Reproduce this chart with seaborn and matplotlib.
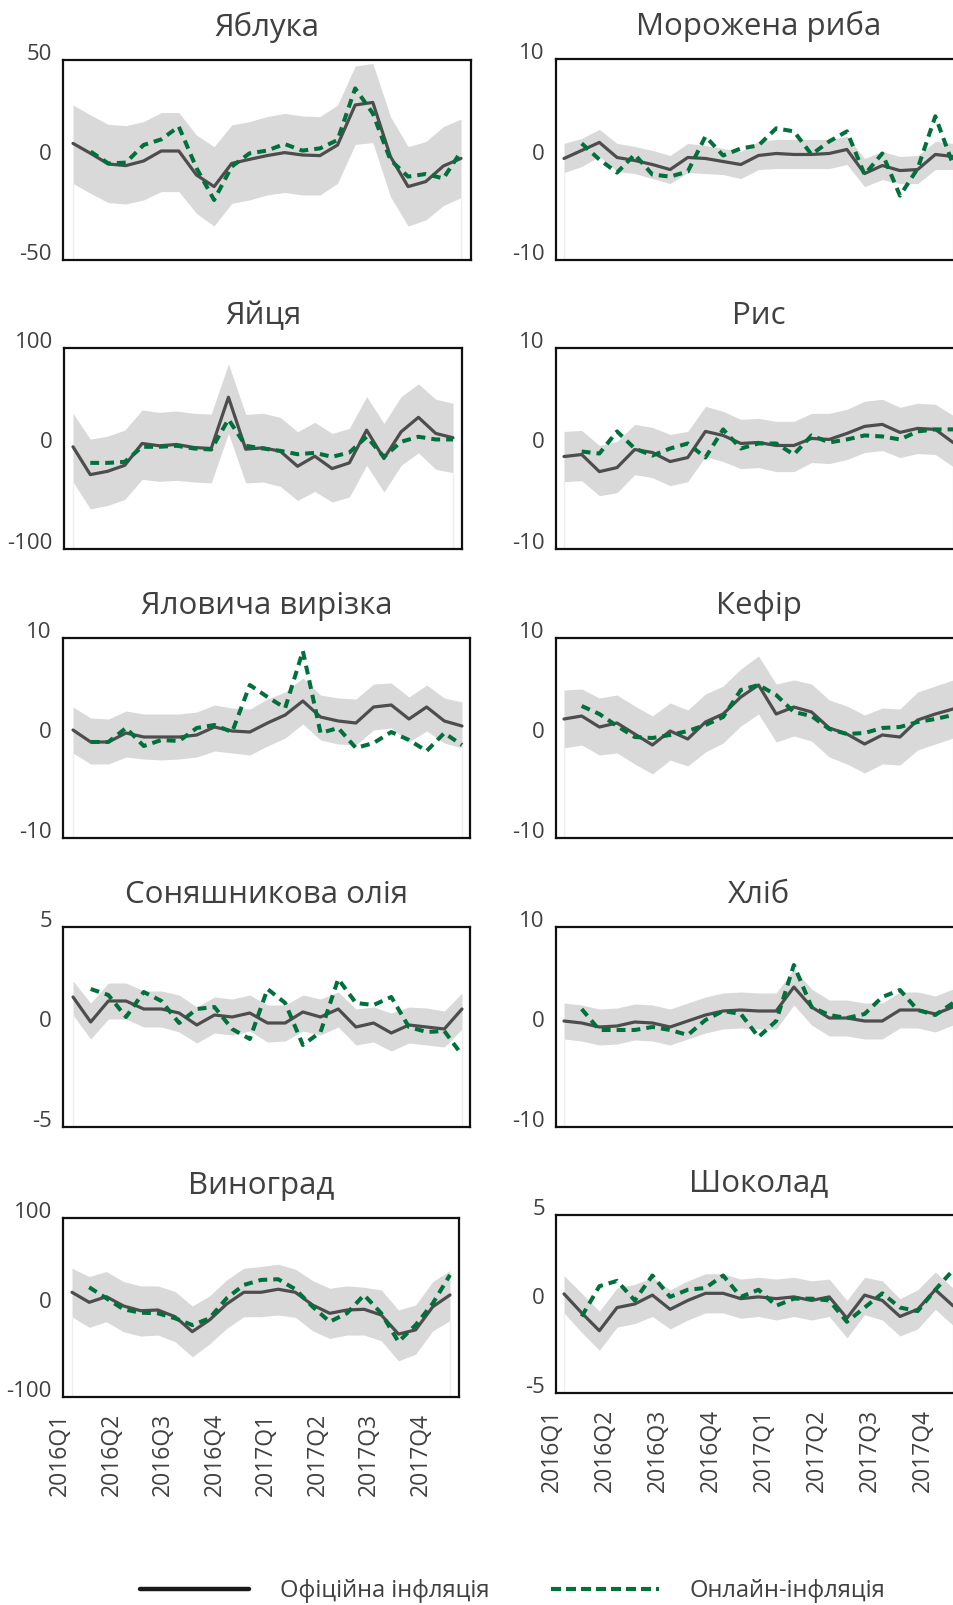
import numpy as np
import pandas as pd
import matplotlib
matplotlib.use("Agg")
import matplotlib.pyplot as plt
import seaborn as sns
from matplotlib.transforms import ScaledTranslation
from matplotlib.lines import Line2D

nan = np.nan
months = list(range(23))
quarter_ticks = [0, 3, 6, 9, 12, 15, 18, 21]
quarter_labels = ["2016Q1", "2016Q2", "2016Q3", "2016Q4",
                  "2017Q1", "2017Q2", "2017Q3", "2017Q4"]

# ---------------- data ----------------
apples_official = [8.3, 3.3, -2.0, -2.8, -0.5, 4.5, 4.5, -7.5, -13.3, -1.7, 0.3, 2.2, 3.7, 2.5, 2.2, 7.5, 27.5, 28.8, 1.7, -13.3, -10.8, -3.0, 0.8]
apples_online = [nan, 4.2, -1.7, -1.3, 7.5, 10.3, 16.7, -4.0, -20.0, -3.3, 3.3, 4.7, 8.0, 4.7, 5.8, 10.0, 35.8, 23.3, 0.0, -8.3, -7.0, -9.2, 4.2]
apples_upper = [27.5, 22.5, 17.8, 17.2, 19.2, 23.7, 23.7, 12.5, 6.7, 17.5, 19.2, 21.7, 23.3, 22.0, 21.7, 27.5, 47.0, 48.3, 21.7, 6.7, 9.2, 16.7, 20.5]
apples_lower = [-11.7, -16.7, -21.3, -22.0, -20.0, -15.8, -15.8, -26.7, -33.0, -21.7, -20.0, -17.5, -16.2, -17.5, -17.5, -11.7, 7.8, 8.7, -18.3, -33.0, -30.0, -22.8, -18.8]

fish_official = [0.1, 0.9, 1.7, 0.2, -0.1, -0.5, -1.0, 0.2, 0.1, -0.2, -0.5, 0.4, 0.6, 0.5, 0.5, 0.6, 1.0, -1.4, -0.6, -1.1, -1.0, 0.5, 0.3]
fish_online = [nan, 1.6, 0.0, -1.3, 0.5, -1.5, -1.7, -1.2, 2.3, 0.4, 1.1, 1.4, 3.1, 2.8, 0.5, 1.8, 2.8, -1.5, 0.6, -3.6, -0.9, 4.3, -0.5]
fish_upper = [1.6, 2.1, 3.0, 1.6, 1.3, 0.9, 0.4, 1.6, 1.4, 1.1, 0.8, 1.8, 2.0, 2.0, 2.0, 2.0, 2.3, 0.1, 0.8, 0.3, 0.4, 1.8, 1.6]
fish_lower = [-1.3, -0.7, 0.3, -1.2, -1.4, -1.9, -2.4, -1.3, -1.4, -1.5, -1.9, -1.0, -0.9, -0.9, -0.9, -0.9, -0.5, -2.7, -2.0, -2.4, -2.4, -1.0, -1.0]

eggs_official = [1.7, -26.0, -22.7, -16.7, 5.0, 2.7, 4.0, 1.0, 0.0, 51.0, -0.7, 0.7, -2.7, -17.7, -7.7, -20.0, -14.3, 18.3, -10.0, 16.7, 31.0, 15.0, 10.7]
eggs_online = [nan, -14.3, -14.3, -13.3, 1.7, 1.7, 2.7, 0.0, -1.0, 29.0, 2.7, 0.0, -2.3, -5.7, -4.3, -8.3, -4.0, 11.7, -8.3, 6.7, 11.7, 9.0, 9.0]
eggs_upper = [35.0, 9.3, 12.3, 18.3, 38.3, 36.0, 37.3, 35.0, 34.3, 84.3, 34.0, 35.0, 31.0, 16.7, 26.0, 15.0, 20.0, 51.7, 25.0, 51.7, 64.3, 49.0, 45.0]
eggs_lower = [-33.3, -60.0, -56.7, -50.7, -30.7, -32.7, -31.7, -33.3, -34.3, 15.0, -34.3, -33.3, -37.7, -51.7, -42.7, -53.3, -48.3, -16.7, -43.3, -16.7, -4.3, -20.7, -24.0]

rice_official = [-0.8, -0.6, -2.3, -1.9, -0.1, -0.4, -1.3, -0.9, 1.7, 1.3, 0.5, 0.6, 0.3, 0.3, 1.0, 0.9, 1.5, 2.2, 2.4, 1.6, 2.0, 1.9, 0.6]
rice_online = [nan, -0.3, -0.5, 1.7, 0.0, -0.7, 0.0, 0.5, -0.9, 1.9, 0.0, 0.5, 0.5, -0.6, 1.3, 0.6, 0.9, 1.3, 1.2, 0.9, 1.7, 1.9, 1.9]
rice_upper = [1.7, 1.8, 0.3, 0.7, 2.4, 2.1, 1.4, 1.7, 4.2, 3.7, 2.9, 3.0, 2.7, 2.7, 3.5, 3.5, 3.9, 4.7, 4.9, 4.1, 4.5, 4.4, 3.3]
rice_lower = [-3.3, -3.2, -4.7, -4.4, -2.6, -2.9, -3.7, -3.3, -0.8, -1.3, -2.0, -1.9, -2.3, -2.3, -1.4, -1.5, -1.1, -0.4, -0.2, -0.9, -0.5, -0.6, -1.8]

beef_official = [0.8, -0.4, -0.4, 0.5, 0.1, 0.1, 0.1, 0.3, 1.1, 0.7, 0.6, 1.5, 2.3, 3.7, 2.1, 1.7, 1.5, 3.1, 3.3, 1.9, 3.1, 1.7, 1.2]
beef_online = [nan, -0.4, -0.4, 1.0, -0.8, -0.2, -0.3, 1.0, 1.3, 0.6, 5.3, 4.1, 3.0, 8.7, 0.5, 1.0, -1.0, -0.5, 0.6, -0.2, -1.3, 0.5, -0.7]
beef_upper = [3.1, 2.0, 1.9, 2.7, 2.4, 2.4, 2.4, 2.6, 3.3, 3.0, 2.9, 3.9, 4.6, 6.0, 4.3, 4.0, 3.9, 5.4, 5.5, 4.1, 5.3, 4.0, 3.6]
beef_lower = [-1.5, -2.6, -2.6, -1.9, -2.1, -2.2, -2.1, -1.9, -1.3, -1.5, -1.7, -0.8, 0.0, 1.4, -0.2, -0.6, -0.7, 0.8, 1.0, -0.4, 0.7, -0.5, -1.0]

kefir_official = [1.9, 2.2, 1.1, 1.5, 0.4, -0.7, 0.7, -0.1, 1.6, 2.4, 4.1, 5.3, 2.4, 3.1, 2.6, 1.0, 0.4, -0.6, 0.3, 0.1, 1.8, 2.4, 2.9]
kefir_online = [nan, 3.2, 2.4, 1.2, 0.1, 0.0, 0.3, 0.7, 1.3, 2.1, 4.8, 5.3, 4.3, 2.6, 2.2, 0.9, 0.4, 0.5, 1.0, 1.1, 1.6, 1.9, 2.3]
kefir_upper = [4.8, 4.9, 4.0, 4.3, 3.2, 2.2, 3.5, 2.8, 4.4, 5.2, 6.9, 8.2, 5.4, 5.8, 5.4, 3.8, 3.2, 2.3, 3.0, 2.9, 4.6, 5.2, 5.8]
kefir_lower = [-1.0, -0.7, -1.7, -1.5, -2.6, -3.6, -2.2, -2.8, -1.4, -0.5, 1.2, 2.4, -0.4, 0.2, -0.3, -1.9, -2.6, -3.5, -2.6, -2.7, -1.2, -0.6, 0.0]

oil_official = [1.5, 0.25, 1.3, 1.3, 0.9, 0.9, 0.7, 0.1, 0.6, 0.5, 0.7, 0.2, 0.2, 0.75, 0.5, 0.9, 0.0, 0.2, -0.3, 0.1, 0.0, -0.1, 0.9]
oil_online = [nan, 1.9, 1.6, 0.5, 1.75, 1.3, 0.2, 0.9, 1.0, -0.1, -0.6, 1.9, 1.2, -0.9, -0.25, 2.4, 1.2, 1.1, 1.5, 0.0, -0.25, -0.2, -1.4]
oil_upper = [2.3, 1.2, 2.2, 2.2, 1.8, 1.8, 1.6, 1.0, 1.5, 1.4, 1.6, 1.1, 1.1, 1.6, 1.4, 1.75, 0.9, 1.0, 0.7, 1.0, 0.95, 0.8, 1.7]
oil_lower = [0.6, -0.6, 0.4, 0.4, 0.0, 0.0, -0.25, -0.8, -0.3, -0.4, -0.2, -0.75, -0.7, -0.2, -0.4, 0.0, -0.9, -0.75, -1.2, -0.8, -0.9, -1.0, -0.1]

bread_official = [0.6, 0.4, 0.0, 0.1, 0.5, 0.4, 0.0, 0.6, 1.2, 1.6, 1.7, 1.6, 1.6, 4.0, 2.0, 0.9, 0.9, 0.6, 0.6, 1.7, 1.7, 1.3, 2.0]
bread_online = [nan, 1.8, -0.3, -0.3, -0.3, 0.0, -0.3, -0.8, 0.7, 1.6, 1.3, -1.0, 0.6, 6.2, 2.0, 1.2, 0.9, 1.3, 3.0, 3.7, 1.7, 1.2, 2.4]
bread_upper = [2.4, 2.2, 1.8, 1.9, 2.3, 2.2, 1.8, 2.4, 3.0, 3.4, 3.5, 3.4, 3.4, 5.8, 3.8, 2.7, 2.7, 2.4, 2.4, 3.5, 3.5, 3.1, 3.8]
bread_lower = [-1.2, -1.4, -1.8, -1.7, -1.3, -1.4, -1.8, -1.2, -0.6, -0.2, -0.1, -0.2, -0.2, 2.2, 0.2, -0.9, -0.9, -1.2, -1.2, -0.1, -0.1, -0.5, 0.2]

grapes_official = [17.0, 5.8, 12.1, 1.7, -3.6, -2.8, -10.3, -27.0, -14.0, 3.9, 17.0, 17.0, 20.4, 17.0, 2.8, -6.5, -2.8, -2.0, -8.4, -29.7, -25.0, 0.9, 14.0]
grapes_online = [nan, 22.6, 10.3, -2.0, -5.8, -6.5, -12.1, -19.6, -12.1, 10.3, 25.2, 30.8, 31.6, 20.4, 0.9, -15.9, -6.5, 14.0, -6.5, -38.3, -19.6, 4.7, 36.4]
grapes_upper = [43.9, 34.6, 40.2, 29.0, 24.1, 24.1, 17.8, 1.7, 12.9, 30.8, 43.9, 45.8, 48.4, 42.8, 30.1, 21.5, 24.1, 22.6, 19.6, -2.8, 2.8, 29.0, 41.3]
grapes_lower = [-10.3, -22.2, -15.9, -27.1, -32.0, -30.8, -38.3, -55.1, -40.9, -23.4, -10.3, -10.3, -8.4, -11.0, -26.0, -34.6, -30.8, -30.8, -37.2, -59.6, -52.1, -26.0, -14.8]

choc_official = [0.57, -0.5, -1.5, -0.2, 0.0, 0.5, -0.3, 0.2, 0.6, 0.6, 0.3, 0.4, 0.3, 0.4, 0.2, 0.4, -0.8, 0.5, 0.2, -0.7, -0.3, 0.8, -0.1]
choc_online = [nan, -0.7, 1.0, 1.3, 0.2, 1.6, 0.4, 0.8, 0.9, 1.6, 0.4, 0.8, -0.1, 0.3, 0.3, 0.2, -1.0, -0.2, 0.6, -0.2, -0.4, 0.8, 1.9]
choc_upper = [1.6, 0.6, -0.4, 0.9, 1.1, 1.5, 0.8, 1.3, 1.7, 1.7, 1.4, 1.5, 1.4, 1.5, 1.3, 1.4, 0.2, 1.5, 1.3, 0.3, 0.8, 1.8, 0.9]
choc_lower = [-0.5, -1.6, -2.6, -1.3, -1.1, -0.7, -1.4, -0.9, -0.5, -0.5, -0.8, -0.7, -0.9, -0.7, -0.9, -0.7, -1.9, -0.6, -0.9, -1.8, -1.4, -0.3, -1.2]

titles = ["Яблука", "Морожена риба", "Яйця", "Рис", "Яловича вирізка",
          "Кефір", "Соняшникова олія", "Хліб", "Виноград", "Шоколад"]
y_limits = [50, 10, 100, 10, 10, 10, 5, 10, 100, 5]
series = [
    (apples_official, apples_online, apples_upper, apples_lower),
    (fish_official, fish_online, fish_upper, fish_lower),
    (eggs_official, eggs_online, eggs_upper, eggs_lower),
    (rice_official, rice_online, rice_upper, rice_lower),
    (beef_official, beef_online, beef_upper, beef_lower),
    (kefir_official, kefir_online, kefir_upper, kefir_lower),
    (oil_official, oil_online, oil_upper, oil_lower),
    (bread_official, bread_online, bread_upper, bread_lower),
    (grapes_official, grapes_online, grapes_upper, grapes_lower),
    (choc_official, choc_online, choc_upper, choc_lower),
]

# ---------------- layout (pixels) ----------------
W, H = 954, 1605
# frame left, top, right, bottom, x of first point, x of last point
frames = [
    (63, 60, 471, 260, 73, 461), (556, 59, 962, 260, 564, 953),
    (64, 348, 462, 549, 73, 453), (556, 348, 962, 549, 564, 953),
    (63, 638, 470, 838, 73, 462), (556, 638, 962, 838, 564, 953),
    (63, 927, 470, 1127, 73, 462), (556, 927, 962, 1127, 564, 953),
    (63, 1218, 459, 1397, 72, 450), (556, 1215, 962, 1393, 564, 953),
]

BAND = "#d9d9d9"
OFFICIAL = "#4d4d4d"
ONLINE = "#00703c"
TEXT = "#404040"

sns.set_style("white")
plt.rcParams["font.family"] = ["Open Sans", "DejaVu Sans"]

fig = plt.figure(figsize=(W / 100, H / 100), dpi=100)
fig.patch.set_facecolor("white")

for k, (title, ylim, (off, onl, up, lo), fr) in enumerate(zip(titles, y_limits, series, frames)):
    l, t, r, b, first, last = fr
    ax = fig.add_axes([l / W, 1 - b / H, (r - l) / W, (b - t) / H])
    step = (last - first) / 22
    ax.set_xlim(-(first - l) / step, 22 + (r - last) / step)
    ax.set_ylim(-ylim, ylim)

    ax.fill_between(months, lo, up, color=BAND, lw=0, zorder=1)
    ax.vlines([months[0], months[-1]], -ylim, [lo[0], lo[-1]], color="#eeeeee", lw=1, zorder=1)
    df = pd.DataFrame({"month": months, "official": off, "online": onl})
    sns.lineplot(data=df, x="month", y="official", ax=ax, color=OFFICIAL, lw=2.3,
                 errorbar=None, zorder=3)
    sns.lineplot(data=df.dropna(), x="month", y="online", ax=ax, color=ONLINE, lw=2.9,
                 linestyle=(0, (2.2, 1.5)), errorbar=None, zorder=4)
    ax.set_xlabel("")
    ax.set_ylabel("")

    for sp in ax.spines.values():
        sp.set_visible(True)
        sp.set_linewidth(1.6)
        sp.set_color("#111111")

    ax.set_yticks([-ylim, 0, ylim])
    ax.set_yticklabels([f"-{ylim}", "0", f"{ylim}"])
    ax.tick_params(axis="y", length=0, pad=8, labelsize=16, labelcolor=TEXT)
    for lab in ax.get_yticklabels():
        lab.set_transform(lab.get_transform() + ScaledTranslation(0, 0.08, fig.dpi_scale_trans))

    if k >= 8:
        ax.set_xticks(quarter_ticks)
        ax.set_xticklabels(quarter_labels, rotation=90, ha="right", va="bottom")
        ax.tick_params(axis="x", length=0, pad=71, labelsize=16.5, labelcolor=TEXT)
    else:
        ax.set_xticks([])

    ax.set_title(title, fontsize=22.5, color=TEXT, pad=17.5)

handles = [Line2D([], [], color="#1a1a1a", lw=3.2),
           Line2D([], [], color=ONLINE, lw=3.0, linestyle=(0, (2.4, 1.2)))]
fig.legend(handles, ["Офіційна інфляція", "Онлайн-інфляція"], loc="center",
           bbox_to_anchor=(513 / W, 1 - 1591 / H), ncol=2, frameon=False,
           fontsize=17, handlelength=4.6, handletextpad=1.3, columnspacing=2.6,
           labelcolor=TEXT)

fig.savefig("out.png", dpi=100)
